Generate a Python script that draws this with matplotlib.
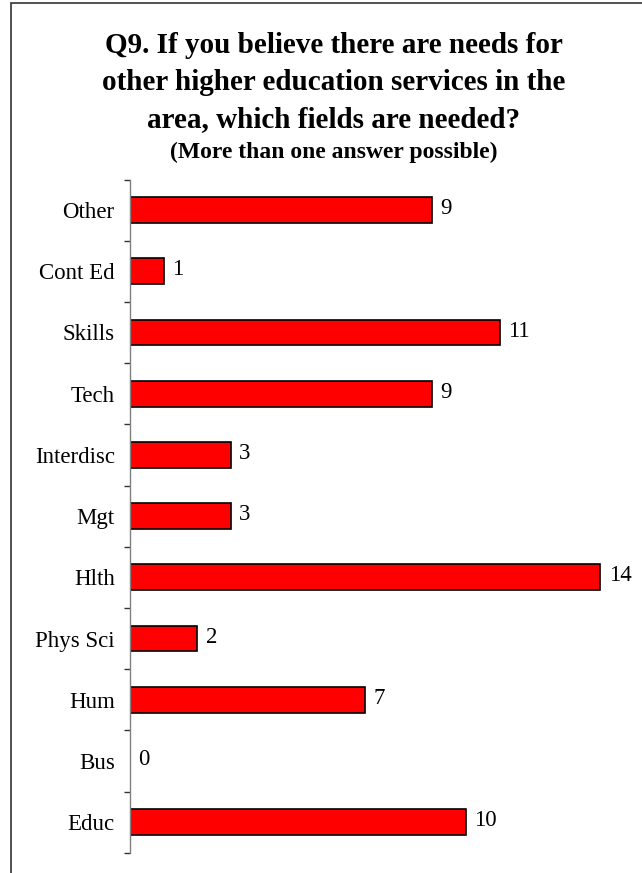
import numpy as np
import matplotlib.pyplot as plt
from matplotlib.patches import Rectangle

plt.rcParams['font.family'] = ['Liberation Serif', 'DejaVu Serif']

# bottom to top, as drawn
fields = ["Educ", "Bus", "Hum", "Phys Sci", "Hlth", "Mgt",
          "Interdisc", "Tech", "Skills", "Cont Ed", "Other"]
counts = [10, 0, 7, 2, 14, 3, 3, 9, 11, 1, 9]

title_lines = ["Q9. If you believe there are needs for",
               "other higher education services in the",
               "area, which fields are needed?"]
subtitle = "(More than one answer possible)"

W, H = 642, 873
fig = plt.figure(figsize=(W / 100, H / 100), dpi=100)

# outer frame (right and bottom edges fall outside the picture)
fig.patches.append(Rectangle((11 / W, -0.1), 1.2, 1 - 3 / H + 0.1,
                             transform=fig.transFigure, fill=False,
                             edgecolor="#333333", linewidth=1.2))

ax = fig.add_axes([130 / W, 1 - 852.7 / H, 504 / W, (852.7 - 179.5) / H])

y = np.arange(len(fields))
ax.barh(y, counts, height=0.42, color="#ff0000", edgecolor="black", linewidth=1.2)

for yi, v in zip(y, counts):
    ax.annotate(str(v), (v, yi), xytext=(6, 1), textcoords="offset points",
                va="center", ha="left", fontsize=16.5)

ax.set_xlim(0, 15)
ax.set_ylim(-0.5, len(fields) - 0.5)

for s in ["top", "right", "bottom"]:
    ax.spines[s].set_visible(False)
ax.spines["left"].set_color("#808080")
ax.spines["left"].set_linewidth(1.0)
ax.set_xticks([])

ax.set_yticks(y)
ax.set_yticklabels(fields, fontsize=16.5)
ax.set_yticks(np.arange(-0.5, len(fields)), minor=True)
ax.tick_params(axis="y", which="major", length=0, pad=11)
ax.tick_params(axis="y", which="minor", length=4.5, width=1.0, color="#333333")

baselines = [53.3, 90, 126.7]
for line, b in zip(title_lines, baselines):
    fig.text(334 / W, 1 - b / H, line, ha="center", va="baseline",
             fontsize=21, fontweight="bold")
fig.text(334 / W, 1 - 158 / H, subtitle, ha="center", va="baseline",
         fontsize=17, fontweight="bold")

fig.savefig("out.png", dpi=100)
